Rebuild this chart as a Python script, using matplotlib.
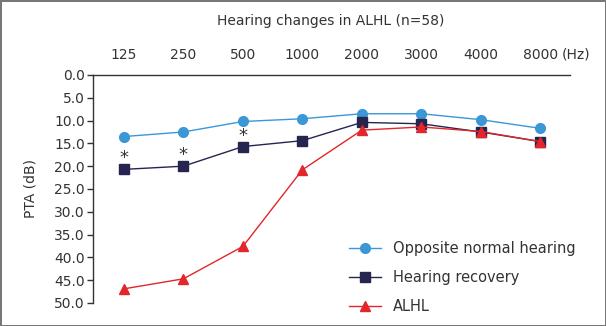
import numpy as np
import matplotlib.pyplot as plt

plt.rcParams['font.family'] = ['DejaVu Sans']

freqs = ['125', '250', '500', '1000', '2000', '3000', '4000', '8000']
opposite = [13.5, 12.5, 10.2, 9.6, 8.5, 8.5, 9.8, 11.7]
recovery = [20.7, 20.0, 15.7, 14.4, 10.4, 10.7, 12.5, 14.6]
alhl = [46.9, 44.7, 37.6, 20.8, 12.1, 11.4, 12.4, 14.6]
star_idx = [0, 1, 2]

x = np.arange(len(freqs))
txt = '#333333'
fs = 10

fig = plt.figure(figsize=(6.06, 3.26), dpi=100)
fig.patch.set_edgecolor('#777777')
fig.patch.set_linewidth(2)
ax = fig.add_axes([0.1535, 0.0706, 0.787, 0.6994])

ax.plot(x, opposite, color='#3b97d6', lw=1, marker='o', ms=7,
        label='Opposite normal hearing')
ax.plot(x, recovery, color='#25254f', lw=1, marker='s', ms=6.5,
        label='Hearing recovery')
ax.plot(x, alhl, color='#e2262b', lw=1, marker='^', ms=7.5, label='ALHL')

for i in star_idx:
    ax.text(x[i], recovery[i] - 2.4, '*', ha='center', va='center',
            fontsize=13, color=txt)

ax.set_xlim(-0.52, 7.5)
ax.set_ylim(50, 0)
ax.set_yticks(np.arange(0, 51, 5))
ax.set_yticklabels([f'{v:.1f}' for v in np.arange(0, 51, 5)])
ax.xaxis.tick_top()
ax.set_xticks(x)
ax.set_xticklabels(freqs)
ax.tick_params(axis='x', length=0, pad=9, labelsize=fs, colors=txt)
ax.tick_params(axis='y', length=4, width=1, labelsize=fs, colors=txt,
               direction='out', pad=2)
ax.text(7.37, 1.06, '(Hz)', transform=ax.get_xaxis_transform(),
        ha='left', va='bottom', fontsize=fs, color=txt)

for s in ['right', 'bottom']:
    ax.spines[s].set_visible(False)
for s in ['left', 'top']:
    ax.spines[s].set_color('#333333')
    ax.spines[s].set_linewidth(1)

ax.set_ylabel('PTA (dB)', fontsize=fs, color=txt, labelpad=12)
fig.text(0.545, 0.935, 'Hearing changes in ALHL (n=58)', ha='center',
         va='center', fontsize=fs, color=txt)

ax.legend(loc='lower right', frameon=False, fontsize=fs + 0.5, labelcolor=txt,
          handlelength=2.2, labelspacing=0.95, borderaxespad=0.2,
          bbox_to_anchor=(1.03, -0.085))

fig.savefig('out.png', dpi=100)
